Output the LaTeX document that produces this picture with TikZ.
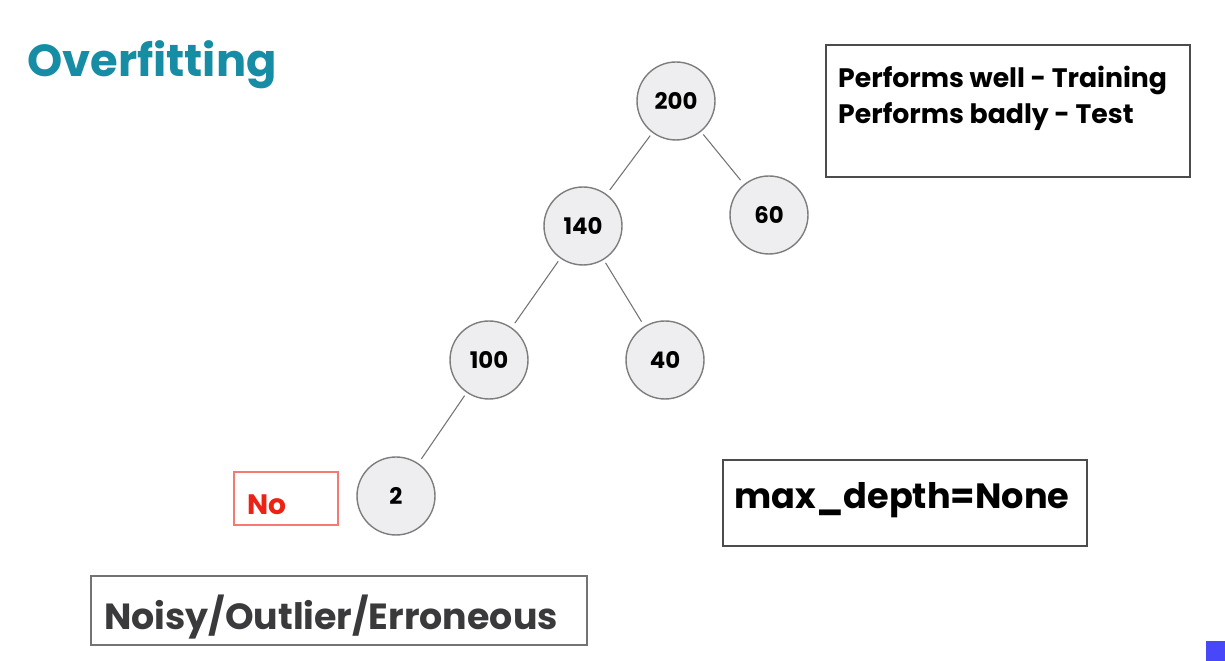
\documentclass[tikz,border=0pt]{standalone}
\usepackage{fontspec}
\setsansfont{Poppins}
\usetikzlibrary{positioning}
\definecolor{titleteal}{RGB}{22,140,165}
\definecolor{nodefill}{RGB}{238,238,241}
\definecolor{nodeline}{RGB}{125,125,125}
\definecolor{noisegrey}{RGB}{58,58,60}
\definecolor{markred}{RGB}{238,34,20}
\definecolor{cornerblue}{RGB}{72,72,250}
\newcommand{\fsz}[1]{\fontsize{#1}{#1}\selectfont}

\begin{document}
\begin{tikzpicture}[x=0.02cm, y=-0.02cm, font=\sffamily\bfseries,
  treenode/.style={circle, draw=nodeline, fill=nodefill, line width=0.8pt,
                   minimum size=1.56cm, inner sep=0pt, font=\sffamily\bfseries\fsz{13}},
  branch/.style={draw=black!55, line width=0.6pt, shorten <=2pt, shorten >=3pt},
  framebox/.style={draw=black!70, line width=0.8pt}]
  \useasboundingbox[fill=white] (0,0) rectangle (1225,661);

  % title
  \node[anchor=west, text=titleteal, font=\sffamily\bfseries\fsz{25.5}] (title) at (21,65) {Overfitting};

  % tree
  \node[treenode] (n200) at (676,101) {200};
  \node[treenode] (n140) at (583,226) {140};
  \node[treenode] (n60)  at (769,215) {60};
  \node[treenode] (n100) at (489,360) {100};
  \node[treenode] (n40)  at (665,360) {40};
  \node[treenode] (n2)   at (396,496) {2};
  \draw[branch] (n200) -- (n140);
  \draw[branch] (n200) -- (n60);
  \draw[branch] (n140) -- (n100);
  \draw[branch] (n140) -- (n40);
  \draw[branch] (n100) -- (n2);

  % note top right
  \draw[framebox] (826,45) rectangle (1190,177);
  \node[anchor=west, font=\sffamily\bfseries\fsz{15.2}] (trainline) at (832,80) {Performs well - Training};
  \node[anchor=west, font=\sffamily\bfseries\fsz{15.2}] (testline) at (832,117) {Performs badly - Test};

  % red label
  \draw[draw=markred!60, line width=0.6pt] (234,472) rectangle (338,525);
  \node[anchor=west, text=markred, font=\sffamily\bfseries\fsz{16}] (nolabel) at (241,505) {No};

  % depth setting
  \draw[framebox] (723,460) rectangle (1087,546);
  \node[font=\sffamily\bfseries\fsz{20}] (depth) at (902,500) {max\_depth=None};

  % noisy
  \draw[framebox, draw=black!55] (91,576) rectangle (587,645);
  \node[anchor=west, text=noisegrey, font=\sffamily\bfseries\fsz{20.7}] (noisy) at (98,617) {Noisy/Outlier/Erroneous};

  \fill[cornerblue] (1206,641) rectangle (1225,661);
\end{tikzpicture}
\end{document}
